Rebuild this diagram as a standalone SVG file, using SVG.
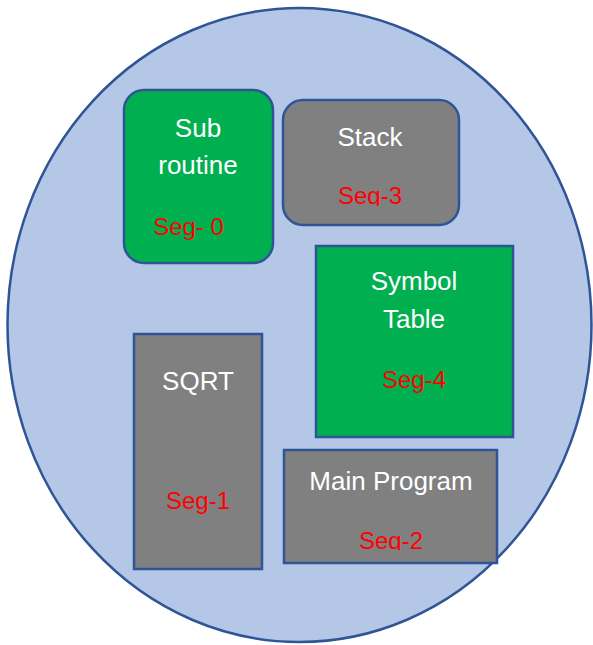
<svg xmlns="http://www.w3.org/2000/svg" width="593" height="645" viewBox="0 0 593 645">
<style>
.box{stroke:#2F5597;stroke-width:2.5}
.g{fill:#00B050}
.gr{fill:#808080}
text{font-family:"Liberation Sans",Arial,sans-serif;font-size:26px;text-anchor:middle}
.w{fill:#FFFFFF}
.r{fill:#FF0000;font-size:24px}
</style>
<defs>
<clipPath id="c3"><rect x="283" y="100" width="176" height="105.5"/></clipPath>
<clipPath id="c2"><rect x="284" y="450" width="213" height="100"/></clipPath>
</defs>
<rect width="593" height="645" fill="#FFFFFF"/>
<g id="memory">
<ellipse cx="299.5" cy="325" rx="292" ry="317" fill="#B4C7E7" stroke="#2F5597" stroke-width="2.5"/>
</g>
<g id="connectors"></g>
<g id="seg0">
<rect class="box g" x="124" y="90" width="149" height="173" rx="20"/>
<text class="w" x="198" y="137">Sub</text>
<text class="w" x="198" y="174">routine</text>
<text class="r" x="188.5" y="235">Seg- 0</text>
</g>
<g id="seg3">
<rect class="box gr" x="283" y="100" width="176" height="125" rx="20"/>
<text class="w" x="370" y="146">Stack</text>
<text class="r" x="370" y="204" clip-path="url(#c3)">Seg-3</text>
</g>
<g id="seg4">
<rect class="box g" x="316" y="246" width="197" height="191"/>
<text class="w" x="414" y="290">Symbol</text>
<text class="w" x="414" y="328">Table</text>
<text class="r" x="414" y="388">Seg-4</text>
</g>
<g id="seg1">
<rect class="box gr" x="134" y="334" width="128" height="235"/>
<text class="w" x="198" y="390">SQRT</text>
<text class="r" x="198" y="509">Seg-1</text>
</g>
<g id="seg2">
<rect class="box gr" x="284" y="450" width="213" height="113"/>
<text class="w" x="391" y="490">Main Program</text>
<text class="r" x="391" y="549" clip-path="url(#c2)">Seg-2</text>
</g>
</svg>
